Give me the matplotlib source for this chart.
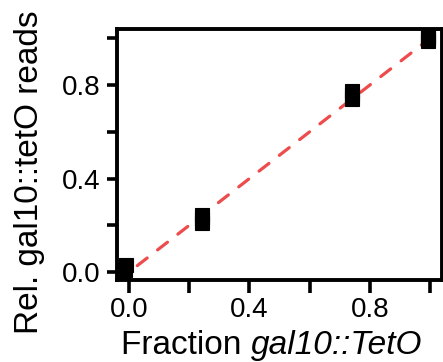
import matplotlib
matplotlib.use("Agg")
import matplotlib.pyplot as plt

plt.rcParams['font.family'] = ['Liberation Sans', 'DejaVu Sans']
plt.rcParams['lines.scale_dashes'] = False

# Replicate measurements: fraction of gal10::TetO cells vs. relative reads
fraction = [-0.019, -0.012, -0.009, 0.243, 0.243, 0.243, 0.742, 0.742, 0.742, 0.992, 0.992, 0.992]
rel_reads = [-0.013, 0.01, 0.03, 0.212, 0.227, 0.242, 0.741, 0.758, 0.775, 0.99, 1.0, 1.008]

x_ticks = [0.0, 0.2, 0.4, 0.6, 0.8, 1.0]
x_ticklabels = ["0.0", "", "0.4", "", "0.8", ""]
y_ticks = [0.0, 0.2, 0.4, 0.6, 0.8, 1.0]
y_ticklabels = ["0.0", "", "0.4", "", "0.8", ""]

W, H = 443, 362
fig = plt.figure(figsize=(W / 100, H / 100), dpi=100)
ax = fig.add_axes([117 / W, 1 - 280 / H, 325 / W, 251 / H])

# identity reference line
ax.plot([-0.04, 1.04], [-0.04, 1.04], color="#EE4C4C", lw=2.3,
        dashes=(9, 9.5), dash_capstyle="round", zorder=2)

ax.plot(fraction, rel_reads, linestyle="none", marker="s", markersize=9.5,
        color="black", markeredgewidth=0.8, markeredgecolor="black",
        zorder=3)

ax.set_xlim(-0.04, 1.04)
ax.set_ylim(-0.034, 1.04)
ax.set_xticks(x_ticks)
ax.set_xticklabels(x_ticklabels)
ax.set_yticks(y_ticks)
ax.set_yticklabels(y_ticklabels)
ax.tick_params(axis="both", direction="out", width=2.6,
               labelsize=20, color="black", labelcolor="black")
ax.tick_params(axis="x", length=9, pad=3)
ax.tick_params(axis="y", length=7, pad=5)
for t in ax.get_xticklines() + ax.get_yticklines():
    t.set_solid_capstyle("round")
for s in ax.spines.values():
    s.set_linewidth(2.8)
    s.set_color("black")
    s.set_zorder(4)

fig.text(14 / W, 1 - 172 / H, "Rel. gal10::tetO reads", rotation=90,
         ha="left", va="center", fontsize=24)

# x label with an italic strain name
renderer = fig.canvas.get_renderer()
t1 = fig.text(0, 0, "Fraction ", fontsize=24)
t2 = fig.text(0, 0, "gal10::TetO", fontsize=24, style="italic")
w1 = t1.get_window_extent(renderer).width
w2 = t2.get_window_extent(renderer).width
cx = 272
base_y = 1 - 354 / H
x0 = cx - (w1 + w2) / 2
t1.set_position((x0 / W, base_y))
t2.set_position(((x0 + w1) / W, base_y))

fig.savefig("out.png", dpi=100)
